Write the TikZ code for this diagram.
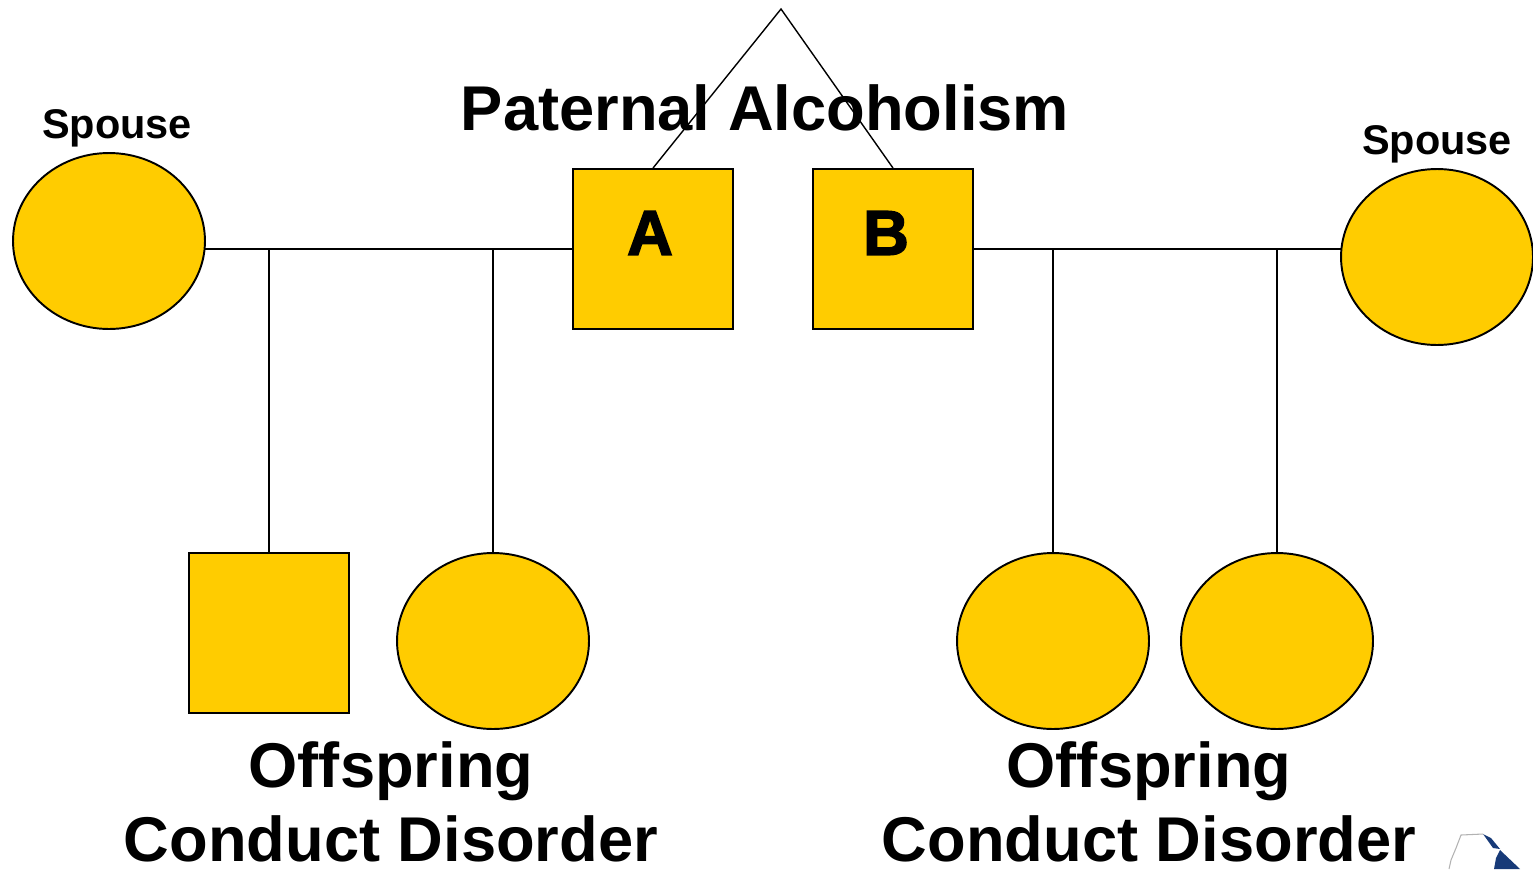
\documentclass[tikz,border=0pt]{standalone}
\usepackage{fontspec}
\setmainfont{Liberation Sans}
\newfontfamily\heavyfont[FakeBold=2.5]{Liberation Sans Bold}
\usetikzlibrary{shapes.geometric}
\definecolor{gold}{HTML}{FFCC00}
\definecolor{logoblue}{HTML}{173A78}
\tikzset{
  fem/.style={ellipse, draw=black, line width=1.1pt, fill=gold, minimum width=3.84cm, minimum height=3.52cm, inner sep=0pt},
  male/.style={rectangle, draw=black, line width=1.1pt, fill=gold, minimum width=3.2cm, minimum height=3.2cm, inner sep=0pt},
  link/.style={draw=black, line width=0.8pt},
  big/.style={font=\bfseries\fontsize{36}{40}\selectfont, inner sep=0pt, anchor=base},
  small/.style={font=\bfseries\fontsize{23.6}{26}\selectfont, inner sep=0pt, anchor=base},
  letter/.style={font=\heavyfont\fontsize{36}{40}\selectfont, inner sep=0pt}
}
\begin{document}
\begin{tikzpicture}[x=0.02cm,y=-0.02cm]
\useasboundingbox (0,0) rectangle (1533,869);
% triangle apex
\coordinate (apex) at (781,9);
% parents
\node[male] (A) at (653,249) {};
\node[male] (B) at (893,249) {};
\node[letter] (Alab) at (650,233) {A};
\node[letter] (Blab) at (886,233) {B};
\node[fem] (S1) at (109,241) {};
\node[fem] (S2) at (1437,257) {};
\node[small] (S1lab) at (117,138) {Spouse};
\node[small] (S2lab) at (1437,154) {Spouse};
% children
\node[male] (C1) at (269,633) {};
\node[fem] (C2) at (493,641) {};
\node[fem] (C3) at (1053,641) {};
\node[fem] (C4) at (1277,641) {};
% connectors
\coordinate (L1) at (205,249);
\coordinate (R1) at (1341,249);
\draw[link] (L1) -- (A.west);
\draw[link] (B.east) -- (R1);
\draw[link] (C1.north |- A.west) -- (C1.north);
\draw[link] (C2.north |- A.west) -- (C2.north);
\draw[link] (C3.north |- B.east) -- (C3.north);
\draw[link] (C4.north |- B.east) -- (C4.north);
\draw[link] (A.north) -- (apex) -- (B.north);
% texts
\node[big] (title) at (765,130) {Paternal Alcoholism};
\node[big] (o1) at (391,787) {Offspring};
\node[big] (d1) at (391,861) {Conduct Disorder};
\node[big] (o2) at (1149,787) {Offspring};
\node[big] (d2) at (1149,861) {Conduct Disorder};
% cropped logo fragment
\fill[logoblue] (1483,834) -- (1491,838) -- (1500,849) -- (1493,848) -- cycle;
\fill[logoblue] (1500,850) -- (1520,869) -- (1494,869) -- (1496,858) -- cycle;
\draw[gray!60, line width=0.6pt] (1483,834) -- (1461,835) -- (1456,848) -- (1451,860) -- (1449,869);
\end{tikzpicture}
\end{document}
